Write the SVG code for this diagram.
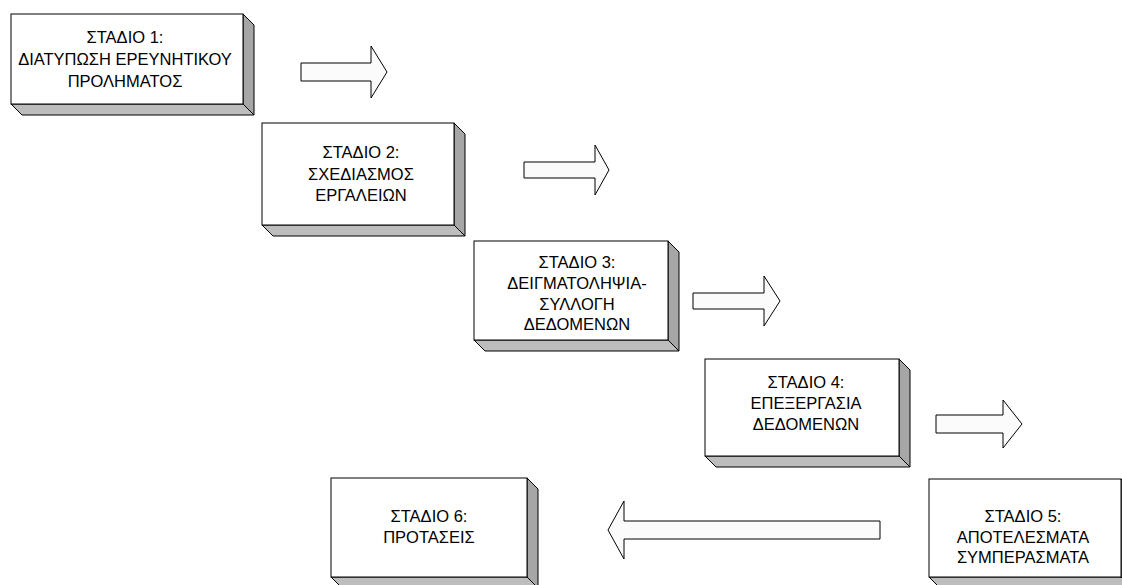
<svg xmlns="http://www.w3.org/2000/svg" width="1122" height="585" viewBox="0 0 1122 585">
<style>
.front{fill:#ffffff;stroke:#000;stroke-width:1}
.side{fill:#a6a6a6;stroke:#000;stroke-width:1;stroke-linejoin:miter}
.bot{fill:#bdbdbd;stroke:#000;stroke-width:1}
.arr{fill:#fbfbfb;stroke:#000;stroke-width:1}
text{font-family:"Liberation Sans",Arial,"Noto Sans",sans-serif;font-size:16.5px;fill:#000;text-anchor:middle}
</style>
<rect width="1122" height="585" fill="#fff"/>
<g id="connectors">
<polygon class="arr" points="301,63 371,63 371,46 387,72 371,98 371,81 301,81"/>
<polygon class="arr" points="524,162 595,162 595,145 609,170 595,195 595,178 524,178"/>
<polygon class="arr" points="693,293 764,293 764,276 780,301 764,326 764,309 693,309"/>
<polygon class="arr" points="936,415 1003,415 1003,400 1022,424 1003,448 1003,433 936,433"/>
<polygon class="arr" points="880,521 624,521 624,501 608,530 624,559 624,539 880,539"/>
</g>
<g id="stage1">
<polygon class="side" points="243,14 254,25 254,115 243,104"/>
<polygon class="bot" points="11,104 243,104 254,115 22,115"/>
<rect class="front" x="11" y="14" width="232" height="90"/>
<text x="125" y="43">ΣΤΑΔΙΟ 1:</text>
<text x="125" y="65">ΔΙΑΤΥΠΩΣΗ ΕΡΕΥΝΗΤΙΚΟΥ</text>
<text x="125" y="87">ΠΡΟΛΗΜΑΤΟΣ</text>
</g>
<g id="stage2">
<polygon class="side" points="454,123 465,134 465,236 454,225"/>
<polygon class="bot" points="262,225 454,225 465,236 273,236"/>
<rect class="front" x="262" y="123" width="192" height="102"/>
<text x="361" y="158">ΣΤΑΔΙΟ 2:</text>
<text x="361" y="180">ΣΧΕΔΙΑΣΜΟΣ</text>
<text x="361" y="201">ΕΡΓΑΛΕΙΩΝ</text>
</g>
<g id="stage3">
<polygon class="side" points="668,241 679,252 679,351 668,340"/>
<polygon class="bot" points="474,340 668,340 679,351 485,351"/>
<rect class="front" x="474" y="241" width="194" height="99"/>
<text x="577" y="268">ΣΤΑΔΙΟ 3:</text>
<text x="577" y="289">ΔΕΙΓΜΑΤΟΛΗΨΙΑ-</text>
<text x="577" y="310">ΣΥΛΛΟΓΗ</text>
<text x="577" y="330">ΔΕΔΟΜΕΝΩΝ</text>
</g>
<g id="stage4">
<polygon class="side" points="899,359 910,370 910,467 899,456"/>
<polygon class="bot" points="705,456 899,456 910,467 716,467"/>
<rect class="front" x="705" y="359" width="194" height="97"/>
<text x="806" y="388">ΣΤΑΔΙΟ 4:</text>
<text x="806" y="409">ΕΠΕΞΕΡΓΑΣΙΑ</text>
<text x="806" y="430">ΔΕΔΟΜΕΝΩΝ</text>
</g>
<g id="stage5">
<polygon class="side" points="1121,479 1132,490 1132,588 1121,577"/>
<polygon class="bot" points="929,577 1121,577 1132,588 940,588"/>
<rect class="front" x="929" y="479" width="192" height="98"/>
<text x="1023" y="522">ΣΤΑΔΙΟ 5:</text>
<text x="1023" y="543">ΑΠΟΤΕΛΕΣΜΑΤΑ</text>
<text x="1023" y="563">ΣΥΜΠΕΡΑΣΜΑΤΑ</text>
</g>
<g id="stage6">
<polygon class="side" points="527,478 538,489 538,588 527,577"/>
<polygon class="bot" points="331,577 527,577 538,588 342,588"/>
<rect class="front" x="331" y="478" width="196" height="99"/>
<text x="429" y="522">ΣΤΑΔΙΟ 6:</text>
<text x="429" y="543">ΠΡΟΤΑΣΕΙΣ</text>
</g>
</svg>
